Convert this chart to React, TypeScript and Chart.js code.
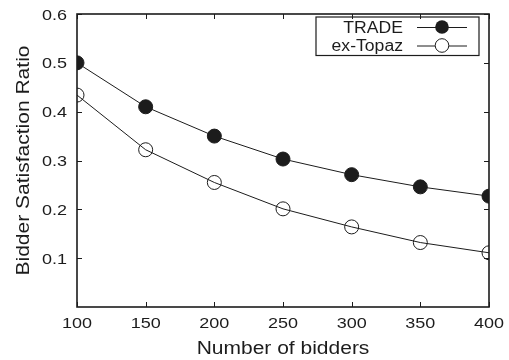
import React, { useEffect, useRef } from "react";
import { Chart, registerables } from "chart.js";

Chart.register(...registerables);

const bidders = [100, 150, 200, 250, 300, 350, 400];
const tradeValues = [0.5, 0.41, 0.35, 0.303, 0.271, 0.246, 0.227];
const topazValues = [0.434, 0.322, 0.255, 0.201, 0.164, 0.132, 0.111];
const xTicks = [100, 150, 200, 250, 300, 350, 400];
const yTicks = [0.1, 0.2, 0.3, 0.4, 0.5, 0.6];
const seriesNames = ["TRADE", "ex-Topaz"];
const xTitle = "Number of bidders";
const yTitle = "Bidder Satisfaction Ratio";

const FONT = "'Liberation Sans', Arial, Helvetica, sans-serif";
const INK = "#1c1c1c";

function stretchText(
  ctx: CanvasRenderingContext2D,
  text: string,
  x: number,
  y: number,
  align: CanvasTextAlign,
  size: number,
  sx: number,
  rot = 0
) {
  ctx.save();
  ctx.translate(x, y);
  if (rot) ctx.rotate(rot);
  ctx.scale(sx, 1);
  ctx.font = `${size}px ${FONT}`;
  ctx.textAlign = align;
  ctx.textBaseline = "alphabetic";
  ctx.fillStyle = INK;
  ctx.fillText(text, 0, 0);
  ctx.restore();
}

const framePlugin = {
  id: "frame",
  afterDraw(chart: any) {
    const { ctx, chartArea } = chart;
    const { left, right, top, bottom } = chartArea;
    const xs = chart.scales.x;
    const ys = chart.scales.y;
    ctx.save();
    ctx.strokeStyle = INK;
    ctx.lineWidth = 1.6;
    ctx.strokeRect(left, top, right - left, bottom - top);
    const tl = 5;
    ctx.beginPath();
    xTicks.forEach((v) => {
      const px = Math.round(xs.getPixelForValue(v)) + 0.5;
      ctx.moveTo(px, bottom);
      ctx.lineTo(px, bottom - tl);
      ctx.moveTo(px, top);
      ctx.lineTo(px, top + tl);
    });
    yTicks.forEach((v) => {
      const py = Math.round(ys.getPixelForValue(v)) + 0.5;
      ctx.moveTo(left, py);
      ctx.lineTo(left + tl, py);
      ctx.moveTo(right, py);
      ctx.lineTo(right - tl, py);
    });
    ctx.lineWidth = 1;
    ctx.stroke();

    // tick labels
    xTicks.forEach((v) => {
      stretchText(ctx, String(v), xs.getPixelForValue(v), 328, "center", 15, 1.2);
    });
    yTicks.forEach((v) => {
      stretchText(ctx, v.toFixed(1), 67, ys.getPixelForValue(v) + 5.5, "right", 15, 1.2);
    });

    // axis titles
    stretchText(ctx, xTitle, (left + right) / 2, 353.5, "center", 17.5, 1.2);
    stretchText(ctx, yTitle, 29, (top + bottom) / 2, "center", 17.5, 1.2, -Math.PI / 2);

    // legend
    const bx = 316, by = 17, bw = 163, bh = 38.5;
    ctx.lineWidth = 1.2;
    ctx.strokeStyle = INK;
    ctx.strokeRect(bx, by, bw, bh);
    const rows = [27, 45.5];
    const baselines = [32.7, 51.3];
    rows.forEach((ry, i) => {
      stretchText(ctx, seriesNames[i], 403, baselines[i], "right", 16, 1.1);
      ctx.lineWidth = 1;
      ctx.beginPath();
      ctx.moveTo(417, ry + 0.5);
      ctx.lineTo(467, ry + 0.5);
      ctx.stroke();
      ctx.beginPath();
      ctx.arc(442, ry, 6.8, 0, Math.PI * 2);
      if (i === 0) {
        ctx.fillStyle = INK;
        ctx.fill();
      } else {
        ctx.fillStyle = "#ffffff";
        ctx.fill();
        ctx.stroke();
      }
    });
    ctx.restore();
  },
};

export default function App() {
  const ref = useRef<HTMLCanvasElement>(null);
  useEffect(() => {
    document.body.style.margin = "0";
    const chart = new Chart(ref.current as HTMLCanvasElement, {
      type: "line",
      data: {
        datasets: [
          {
            label: seriesNames[0],
            data: bidders.map((x, i) => ({ x, y: tradeValues[i] })),
            borderColor: INK,
            borderWidth: 1,
            backgroundColor: INK,
            pointBackgroundColor: INK,
            pointBorderColor: INK,
            pointRadius: 7,
            pointBorderWidth: 1,
            tension: 0,
          },
          {
            label: seriesNames[1],
            data: bidders.map((x, i) => ({ x, y: topazValues[i] })),
            borderColor: INK,
            borderWidth: 1,
            backgroundColor: "rgba(0,0,0,0)",
            pointBackgroundColor: "rgba(0,0,0,0)",
            pointBorderColor: INK,
            pointRadius: 7,
            pointBorderWidth: 1,
            tension: 0,
          },
        ],
      },
      options: {
        animation: false,
        responsive: false,
        layout: { padding: { top: 14, right: 20, left: 0, bottom: 0 } },
        plugins: { legend: { display: false }, tooltip: { enabled: false } },
        scales: {
          x: {
            type: "linear",
            min: 100,
            max: 400,
            afterFit: (s: any) => {
              s.height = 53;
            },
            afterBuildTicks: (s: any) => {
              s.ticks = xTicks.map((v) => ({ value: v }));
            },
            grid: { display: false, drawTicks: false },
            border: { display: false },
            ticks: { display: false },
          },
          y: {
            type: "linear",
            min: 0,
            max: 0.6,
            afterFit: (s: any) => {
              s.width = 77;
            },
            afterBuildTicks: (s: any) => {
              s.ticks = yTicks.map((v) => ({ value: v }));
            },
            grid: { display: false, drawTicks: false },
            border: { display: false },
            ticks: { display: false },
          },
        },
      },
      plugins: [framePlugin],
    });
    return () => chart.destroy();
  }, []);
  return <canvas ref={ref} width={509} height={360} style={{ display: "block" }} />;
}
